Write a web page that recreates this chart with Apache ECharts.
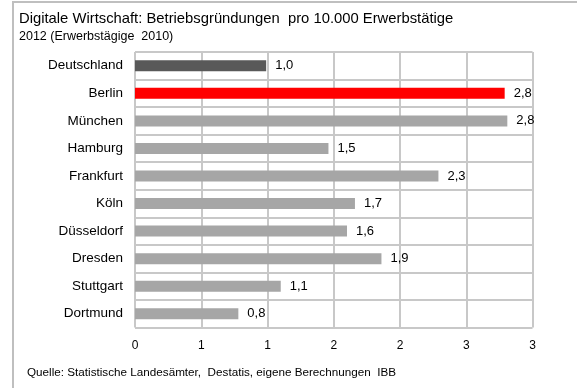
<!DOCTYPE html>
<html>
<head>
<meta charset="utf-8">
<script src="https://cdn.jsdelivr.net/npm/echarts@6/dist/echarts.min.js"></script>
<style>
  html, body { margin: 0; padding: 0; background: #ffffff; }
  #chart { width: 577px; height: 388px; }
</style>
</head>
<body>
<div id="chart"></div>
<script>
// Städte (von oben nach unten)
const cities = ['Deutschland', 'Berlin', 'München', 'Hamburg', 'Frankfurt', 'Köln', 'Düsseldorf', 'Dresden', 'Stuttgart', 'Dortmund'];
// Betriebsgründungen pro 10.000 Erwerbstätige
const foundings = [0.99, 2.79, 2.81, 1.46, 2.29, 1.66, 1.60, 1.86, 1.10, 0.78];
// Balkenfarben: Bund, Berlin, übrige Städte
const barColors = ['#595959', '#ff0000', '#a6a6a6', '#a6a6a6', '#a6a6a6', '#a6a6a6', '#a6a6a6', '#a6a6a6', '#a6a6a6', '#a6a6a6'];
// Beschriftung der x-Achse (Schritt 0,5, ganzzahlig gerundet)
const xTickLabels = ['0', '1', '1', '2', '2', '3', '3'];

const FONT = '"Liberation Sans", Arial, sans-serif';
const GRID = '#c8c8c8';

const chart = echarts.init(document.getElementById('chart'), null, { renderer: 'canvas' });

chart.setOption({
  animation: false,
  backgroundColor: '#ffffff',
  textStyle: { fontFamily: FONT, color: '#000' },
  graphic: [
    {
      type: 'rect',
      shape: { x: 13, y: 2, width: 566, height: 400 },
      style: { fill: 'none', stroke: '#bfbfbf', lineWidth: 2 },
      silent: true
    },
    {
      type: 'text', left: 19, top: 11,
      style: { text: 'Digitale Wirtschaft: Betriebsgründungen  pro 10.000 Erwerbstätige', font: '14.8px ' + FONT, fill: '#000' }
    },
    {
      type: 'text', left: 19, top: 30,
      style: { text: '2012 (Erwerbstägige  2010)', font: '12.5px ' + FONT, fill: '#000' }
    },
    {
      type: 'text', left: 27, top: 367,
      style: { text: 'Quelle: Statistische Landesämter,  Destatis, eigene Berechnungen  IBB', font: '11.7px ' + FONT, fill: '#000' }
    }
  ],
  grid: { left: 135, right: 44.5, top: 52, bottom: 60.5, containLabel: false },
  xAxis: {
    type: 'value',
    min: 0, max: 3, interval: 0.5,
    axisLine: { show: false },
    axisTick: { show: false },
    splitLine: { show: true, lineStyle: { color: GRID, width: 2 } },
    axisLabel: {
      margin: 12,
      fontSize: 12,
      fontFamily: FONT,
      color: '#000',
      formatter: function (v) { return xTickLabels[Math.round(v / 0.5)]; }
    }
  },
  yAxis: {
    type: 'category',
    inverse: true,
    data: cities,
    axisLine: { show: false },
    axisTick: { show: false },
    splitLine: { show: true, lineStyle: { color: GRID, width: 2 } },
    axisLabel: { margin: 12, fontSize: 13.5, fontFamily: FONT, color: '#000' }
  },
  series: [{
    type: 'bar',
    barWidth: 11,
    data: foundings.map(function (v, i) {
      return { value: v, itemStyle: { color: barColors[i] } };
    }),
    label: {
      show: true,
      position: 'right',
      distance: 9,
      fontSize: 13,
      fontFamily: FONT,
      color: '#000',
      formatter: function (p) { return p.value.toFixed(1).replace('.', ','); }
    }
  }]
});
</script>
</body>
</html>
